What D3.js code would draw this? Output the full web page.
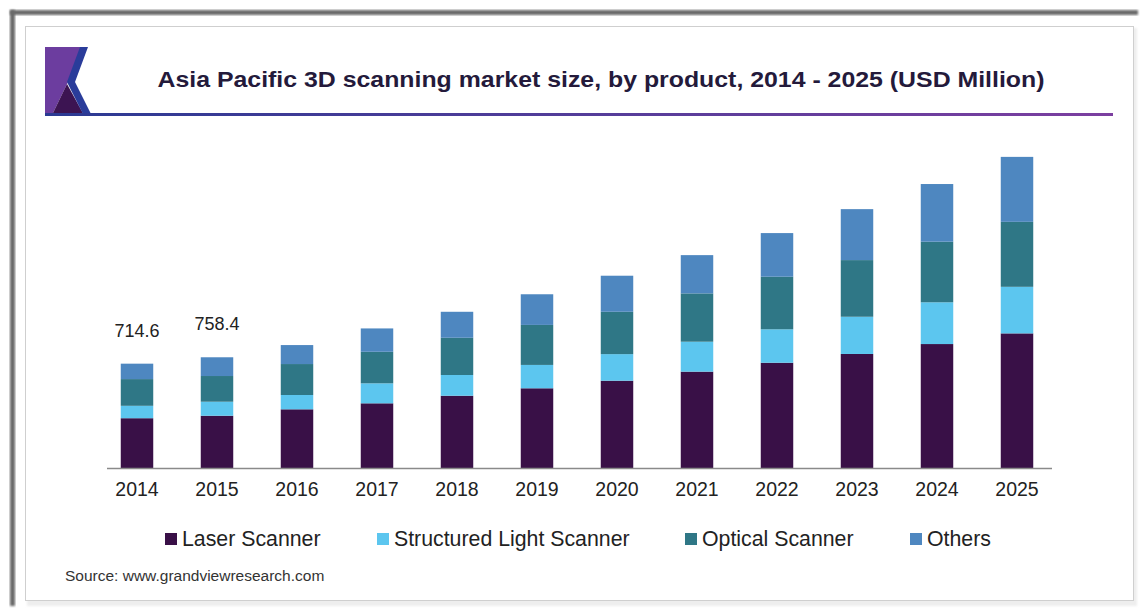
<!DOCTYPE html>
<html><head><meta charset="utf-8">
<script src="https://cdn.jsdelivr.net/npm/d3@7"></script>
<style>
html,body{margin:0;padding:0;background:#fff;}
svg{display:block;font-family:"Liberation Sans",Arial,sans-serif;}
</style></head>
<body>
<svg id="chart" width="1146" height="616"></svg>
<script>
const years = ["2014","2015","2016","2017","2018","2019","2020","2021","2022","2023","2024","2025"];
const seriesNames = ["Laser Scanner","Structured Light Scanner","Optical Scanner","Others"];
const laser      = [341, 358, 402, 443, 495, 546, 598, 660, 721, 781, 849, 922];
const structured = [85,  96,  98,  137, 142, 160, 182, 205, 229, 255, 286, 319];
const optical    = [183, 176, 212, 216, 255, 274, 290, 331, 360, 388, 415, 445];
const others     = [105.6,128.4,130,160, 178, 210, 247, 262, 299, 349, 395, 445];
const valueLabels = ["714.6","758.4"];
const colors = ["#391047","#5cc6ef","#2f7786","#4e87c0"];
const titleText = "Asia Pacific 3D scanning market size, by product, 2014 - 2025 (USD Million)";
const sourceText = "Source: www.grandviewresearch.com";

const svg = d3.select("#chart");
const defs = svg.append("defs");
defs.append("filter").attr("id","blur").append("feGaussianBlur").attr("stdDeviation",1.2);
const lg = defs.append("linearGradient").attr("id","lineGrad").attr("x1","0%").attr("x2","100%");
lg.append("stop").attr("offset","0%").attr("stop-color","#2b3a93");
lg.append("stop").attr("offset","100%").attr("stop-color","#7c3fa0");

// frame
svg.append("rect").attr("x",27).attr("y",28).attr("width",1110).attr("height",578).attr("fill","#eeeeee").attr("filter","url(#blur)");
svg.append("rect").attr("x",10).attr("y",10).attr("width",1128).attr("height",5).attr("fill","#6a6a6a").attr("filter","url(#blur)");
svg.append("rect").attr("x",10).attr("y",10).attr("width",5).attr("height",596).attr("fill","#6a6a6a").attr("filter","url(#blur)");
svg.append("rect").attr("x",25.5).attr("y",26.5).attr("width",1108).attr("height",574).attr("fill","#fff").attr("stroke","#cfcfcf").attr("stroke-width",1);

// logo
const logo = svg.append("g");
logo.append("polygon").attr("points","45,47 81,47 68,82 52,115 45,115").attr("fill","#6c3d9f");
logo.append("polygon").attr("points","52,115 67,84 84,115").attr("fill","#3c1452");
logo.append("polygon").attr("points","80,47 88,47 75,82 91,114 83,114 67,82").attr("fill","#2a3c9a");
svg.append("rect").attr("x",45).attr("y",113).attr("width",1068).attr("height",3).attr("fill","url(#lineGrad)");

// title
svg.append("text").attr("x",601).attr("y",87).attr("text-anchor","middle")
  .attr("font-size",22.5).attr("font-weight","bold").attr("fill","#241a3b")
  .attr("textLength",887).attr("lengthAdjust","spacingAndGlyphs").text(titleText);

// scales
const x = d3.scaleBand().domain(years).range([97,1057]).paddingInner(0.594).paddingOuter(0.297);
const y = d3.scaleLinear().domain([0,2200]).range([468,468-2200*0.146]);

const rows = years.map((yr,i)=>({year:yr, "Laser Scanner":laser[i], "Structured Light Scanner":structured[i], "Optical Scanner":optical[i], "Others":others[i]}));
const stacked = d3.stack().keys(seriesNames)(rows);

svg.append("g").selectAll("g").data(stacked).join("g").attr("fill",(d,i)=>colors[i])
  .selectAll("rect").data(d=>d).join("rect")
  .attr("x",d=>x(d.data.year)).attr("width",x.bandwidth())
  .attr("y",d=>y(d[1])).attr("height",d=>y(d[0])-y(d[1]));

// axis line
svg.append("line").attr("x1",107).attr("x2",1052).attr("y1",468.5).attr("y2",468.5).attr("stroke","#8a8a8a").attr("stroke-width",1.5);

const ax = svg.append("g").attr("transform","translate(0,468)").call(d3.axisBottom(x).tickSize(0));
ax.select(".domain").remove();
ax.selectAll("text").attr("y",27.5).attr("dy",0).attr("font-size",19.5).attr("fill","#222").attr("font-family","Liberation Sans, Arial, sans-serif");

// value labels
valueLabels.forEach((v,i)=>{
  const total = laser[i]+structured[i]+optical[i]+others[i];
  svg.append("text").attr("x",x(years[i])+x.bandwidth()/2).attr("y",y(total)-27)
    .attr("text-anchor","middle").attr("font-size",18).attr("fill","#222").text(v);
});

// legend
const legX = [165,377,685,910];
const lgG = svg.append("g");
seriesNames.forEach((n,i)=>{
  lgG.append("rect").attr("x",legX[i]).attr("y",533).attr("width",12).attr("height",12).attr("fill",colors[i]);
  lgG.append("text").attr("x",legX[i]+17).attr("y",546).attr("font-size",21.3).attr("fill","#222").text(n);
});

// source
svg.append("text").attr("x",65).attr("y",581).attr("font-size",15.5).attr("fill","#333").text(sourceText);
</script>
</body></html>
